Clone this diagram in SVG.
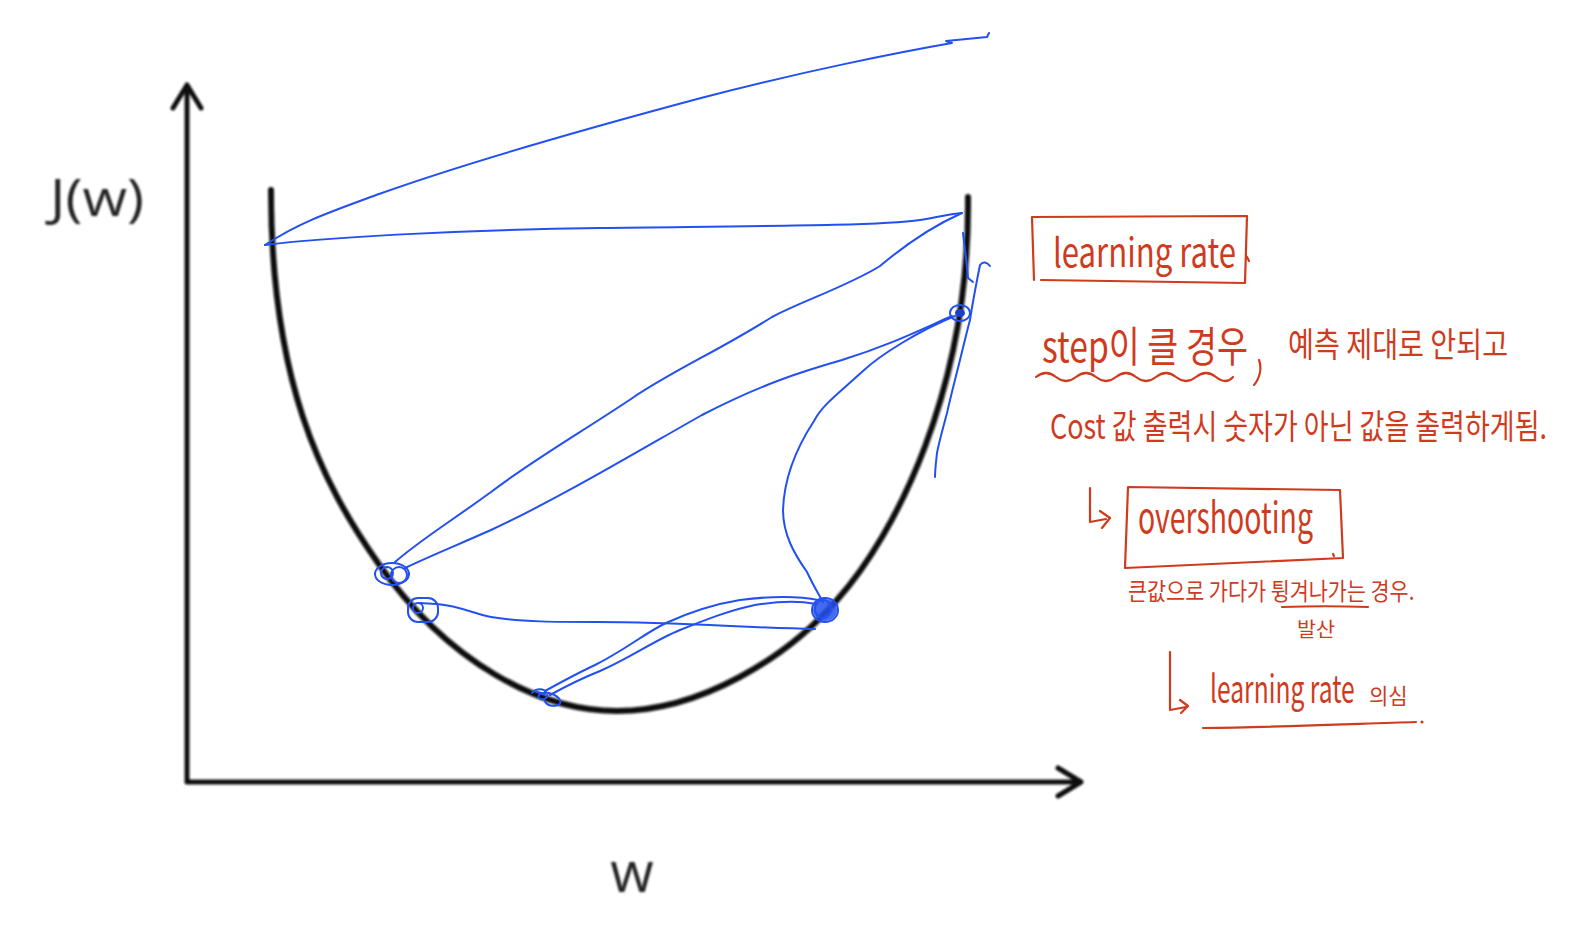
<svg xmlns="http://www.w3.org/2000/svg" width="1578" height="926" viewBox="0 0 1578 926">
<defs>
<filter id="soft" x="-5%" y="-5%" width="110%" height="110%"><feGaussianBlur stdDeviation="0.9"/></filter>
<style>
.ax{fill:none;stroke:#111;stroke-width:5;stroke-linecap:round;stroke-linejoin:round}
.cv{fill:none;stroke:#111;stroke-width:6;stroke-linecap:round}
.lbl{font-family:"Open Sans","Liberation Sans",sans-serif;fill:#222}
.bl{fill:none;stroke:#2350f0;stroke-width:2;stroke-linecap:round;stroke-linejoin:round}
.rd{fill:none;stroke:#cf3b1d;stroke-width:2.2;stroke-linecap:round;stroke-linejoin:round}
.rt{font-family:"Noto Sans CJK KR","Noto Sans","Liberation Sans",sans-serif;fill:#cf3b1d}
</style>
</defs>
<rect width="1578" height="926" fill="#fff"/>
<g id="plot" filter="url(#soft)">
<path class="ax" d="M187,88 L187,782 L1080,782"/>
<path class="ax" d="M173,108 L187,85 L201,108"/>
<path class="ax" d="M1058,768 L1081,782 L1058,796"/>
<path class="cv" d="M271,190 C271,380 320,480 378,563 C448,663 540,711 617,711 C700,711 787,658 837,600 C895,535 970,390 968,197"/>
<text class="lbl" x="50" y="216" font-size="52" textLength="94" lengthAdjust="spacingAndGlyphs">J(w)</text>
<text class="lbl" x="632" y="892" font-size="56" text-anchor="middle">w</text>
</g>
<g id="path-blue">
<path class="bl" d="M265,245 C300,222 330,212 379,194 C480,158 600,125 701,98 C800,72 900,52 952,43 L946,41 L987,37 L989,33"/>
<path class="bl" d="M265,245 C320,238 450,230 600,228 C750,226 880,226 920,220 C940,217 955,213 962,213"/>
<path class="bl" d="M962,213 C935,225 905,245 880,266 C850,285 800,302 772,317 C720,350 670,372 631,399 C580,433 530,462 491,492 C450,522 420,540 395,562"/>
<path class="bl" d="M405,568 C430,556 455,546 491,530 C560,498 640,450 702,415 C760,385 800,372 842,360 C890,345 920,330 952,316"/>
<path class="bl" d="M955,316 C920,330 880,355 863,371 C840,392 822,405 814,421 C795,450 784,480 783,510 C783,535 795,555 807,572 C813,585 818,593 823,602"/>
<path class="bl" d="M437,604 C460,606 475,614 491,617 C520,622 560,622 596,622 C680,622 750,628 815,629"/>
<path class="bl" d="M545,691 C565,680 580,672 595,665 C625,650 645,633 666,623 C690,612 715,604 740,600 C770,596 800,596 818,600"/>
<path class="bl" d="M550,695 C570,684 585,677 600,671 C630,658 655,640 680,630 C705,620 730,610 755,605 C780,601 800,601 816,604"/>
<path class="bl" d="M990,266 C987,262 983,261 980,265 C977,280 973,300 970,320 C966,335 963,348 960,360 C955,380 951,395 947,413 C943,428 939,442 937,453 C936,462 935,470 935,477"/>
<path class="bl" d="M963,233 C965,250 967,265 968,278 L973,282"/>
</g>
<g id="marks">
<g id="m1"><ellipse class="bl" cx="392" cy="574" rx="17" ry="11"/><circle class="bl" cx="399" cy="575" r="8"/><circle class="bl" cx="387" cy="573" r="6"/></g>
<g id="m2"><rect class="bl" x="408" y="598" width="30" height="24" rx="10"/><circle class="bl" cx="418" cy="608" r="5"/><path class="bl" d="M420,603 L436,604"/></g>
<g id="m3"><ellipse cx="825" cy="610" rx="12" ry="11" fill="#2350f0" opacity="0.85"/><ellipse class="bl" cx="825" cy="610" rx="13" ry="12" stroke-width="2.5"/><ellipse class="bl" cx="823" cy="609" rx="8" ry="9"/></g>
<g id="m4"><ellipse class="bl" cx="960" cy="313" rx="10" ry="8" stroke-width="2.5"/><ellipse cx="960" cy="313" rx="5" ry="4" fill="#1a3fd0"/></g>
<g id="m5"><path class="bl" d="M532,693 C536,688 544,688 547,693 C549,698 543,701 539,698 C536,694 545,691 552,694 C560,697 563,703 558,705 C552,707 546,705 545,701"/><path class="bl" stroke-width="3" d="M537,692 L545,694"/></g>
</g>
<g id="note-lr">
<path class="rd" d="M1032,217 L1247,216 L1245,283 M1032,217 L1034,280 M1041,280 L1245,283 M1247,257 L1249,261"/>
<text class="rt" transform="translate(1053,267) scale(0.863,1)" font-size="40" textLength="212" lengthAdjust="spacingAndGlyphs">learning rate</text>
</g>
<g id="note-step">
<text class="rt" transform="translate(1042,362) scale(0.786,1)" font-size="42" textLength="262" lengthAdjust="spacingAndGlyphs">step이 클 경우</text>
<path class="rd" d="M1259,360 C1262,368 1260,378 1254,385"/>
<path class="rd" d="M1036,377 Q1046,369 1056,377 T1076,377 T1096,377 T1116,377 T1136,377 T1156,377 T1176,377 T1196,377 T1216,377 T1233,377"/>
<text class="rt" transform="translate(1288,357) scale(0.767,1)" font-size="34" textLength="287" lengthAdjust="spacingAndGlyphs">예측 제대로 안되고</text>
<text class="rt" transform="translate(1050,439) scale(0.753,1)" font-size="34" textLength="660" lengthAdjust="spacingAndGlyphs">Cost 값 출력시 숫자가 아닌 값을 출력하게됨.</text>
</g>
<g id="note-over">
<path class="rd" d="M1090,488 L1090,522 L1106,519 M1100,511 L1110,518 L1102,528"/>
<path class="rd" d="M1128,487 L1340,490 L1343,558 L1125,568 Z M1333,554 L1334,556"/>
<text class="rt" transform="translate(1138,533) scale(0.754,1)" font-size="42" textLength="232" lengthAdjust="spacingAndGlyphs">overshooting</text>
<text class="rt" transform="translate(1128,600) scale(0.8,1)" font-size="24" textLength="358" lengthAdjust="spacingAndGlyphs">큰값으로 가다가 튕겨나가는 경우.</text>
<path class="rd" d="M1282,607 C1310,606 1340,606 1368,607"/>
<text class="rt" transform="translate(1297,637) scale(0.95,1)" font-size="20" textLength="40" lengthAdjust="spacingAndGlyphs">발산</text>
</g>
<g id="note-doubt">
<path class="rd" d="M1170,652 L1170,710 L1186,707 M1180,700 L1188,706 L1181,713"/>
<text class="rt" transform="translate(1210,703) scale(0.72,1)" font-size="38" textLength="201" lengthAdjust="spacingAndGlyphs">learning rate</text>
<text class="rt" transform="translate(1369,704) scale(0.88,1)" font-size="22" textLength="44" lengthAdjust="spacingAndGlyphs">의심</text>
<path class="rd" d="M1203,728 C1280,727 1350,724 1416,722"/>
<circle cx="1422" cy="722" r="1.6" fill="#cf3b1d"/>
</g>
</svg>
